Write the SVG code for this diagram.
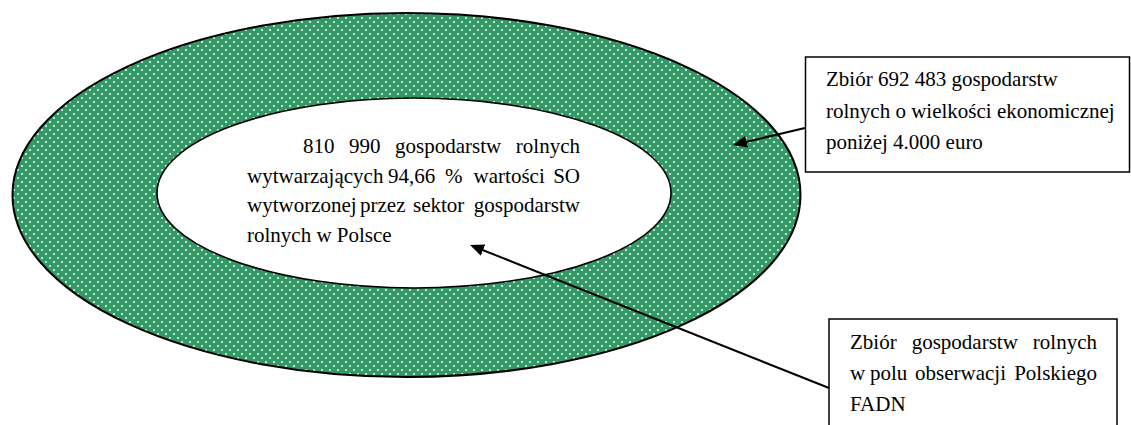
<svg xmlns="http://www.w3.org/2000/svg" width="1131" height="425" viewBox="0 0 1131 425">
<defs>
  <pattern id="dots" patternUnits="userSpaceOnUse" width="8" height="8">
    <rect width="8" height="8" fill="#339966"/>
    <circle cx="2" cy="2" r="1.1" fill="#ffffff" fill-opacity="0.9"/>
    <circle cx="6" cy="6" r="1.1" fill="#ffffff" fill-opacity="0.9"/>
  </pattern>
  <marker id="arr" markerUnits="userSpaceOnUse" markerWidth="15" markerHeight="12" refX="8" refY="6" orient="auto">
    <path d="M0,0 L14,6 L0,12 z" fill="#000000"/>
  </marker>
</defs>
<rect width="1131" height="425" fill="#ffffff"/>
<g id="ring-outer">
  <ellipse cx="406.5" cy="195" rx="394" ry="182" fill="url(#dots)" stroke="#000000" stroke-width="2"/>
</g>
<g id="ring-inner">
  <ellipse cx="414" cy="193" rx="257" ry="95" fill="#ffffff" stroke="#000000" stroke-width="1.6"/>
  <text x="303" y="153" font-family="Liberation Serif" font-size="21">810</text>
  <text x="349" y="153" font-family="Liberation Serif" font-size="21">990</text>
  <text x="395" y="153" font-family="Liberation Serif" font-size="21">gospodarstw</text>
  <text x="580" y="153" font-family="Liberation Serif" font-size="21" text-anchor="end">rolnych</text>
  <text x="247" y="183" font-family="Liberation Serif" font-size="21">wytwarzających</text>
  <text x="388" y="183" font-family="Liberation Serif" font-size="21">94,66</text>
  <text x="445" y="183" font-family="Liberation Serif" font-size="21">%</text>
  <text x="473.6" y="183" font-family="Liberation Serif" font-size="21">wartości</text>
  <text x="580" y="183" font-family="Liberation Serif" font-size="21" text-anchor="end">SO</text>
  <text x="247" y="212" font-family="Liberation Serif" font-size="21">wytworzonej</text>
  <text x="360" y="212" font-family="Liberation Serif" font-size="21">przez</text>
  <text x="413" y="212" font-family="Liberation Serif" font-size="21">sektor</text>
  <text x="580" y="212" font-family="Liberation Serif" font-size="21" text-anchor="end">gospodarstw</text>
  <text x="247" y="242" font-family="Liberation Serif" font-size="21">rolnych w Polsce</text>
</g>
<g id="box-top">
  <rect x="805.5" y="57" width="324" height="115" fill="#ffffff" stroke="#000000" stroke-width="1.5"/>
  <text x="826" y="86" font-family="Liberation Serif" font-size="21">Zbiór 692 483 gospodarstw</text>
  <text x="826" y="118" font-family="Liberation Serif" font-size="21">rolnych o wielkości ekonomicznej</text>
  <text x="826" y="149" font-family="Liberation Serif" font-size="21">poniżej 4.000 euro</text>
</g>
<g id="box-bottom">
  <rect x="829" y="319" width="288" height="120" fill="#ffffff" stroke="#000000" stroke-width="1.5"/>
  <text x="850" y="349" font-family="Liberation Serif" font-size="21">Zbiór</text>
  <text x="911.7" y="349" font-family="Liberation Serif" font-size="21">gospodarstw</text>
  <text x="1097" y="349" font-family="Liberation Serif" font-size="21" text-anchor="end">rolnych</text>
  <text x="850" y="380" font-family="Liberation Serif" font-size="21">w</text>
  <text x="870" y="380" font-family="Liberation Serif" font-size="21">polu</text>
  <text x="915" y="380" font-family="Liberation Serif" font-size="21">obserwacji</text>
  <text x="1097" y="380" font-family="Liberation Serif" font-size="21" text-anchor="end">Polskiego</text>
  <text x="850" y="410.5" font-family="Liberation Serif" font-size="21">FADN</text>
</g>
<g id="connectors" stroke="#000000" stroke-width="2" fill="none">
  <line x1="805" y1="128" x2="738.8" y2="143.6" marker-end="url(#arr)"/>
  <line x1="829" y1="388" x2="475.6" y2="247.2" marker-end="url(#arr)"/>
</g>
</svg>
